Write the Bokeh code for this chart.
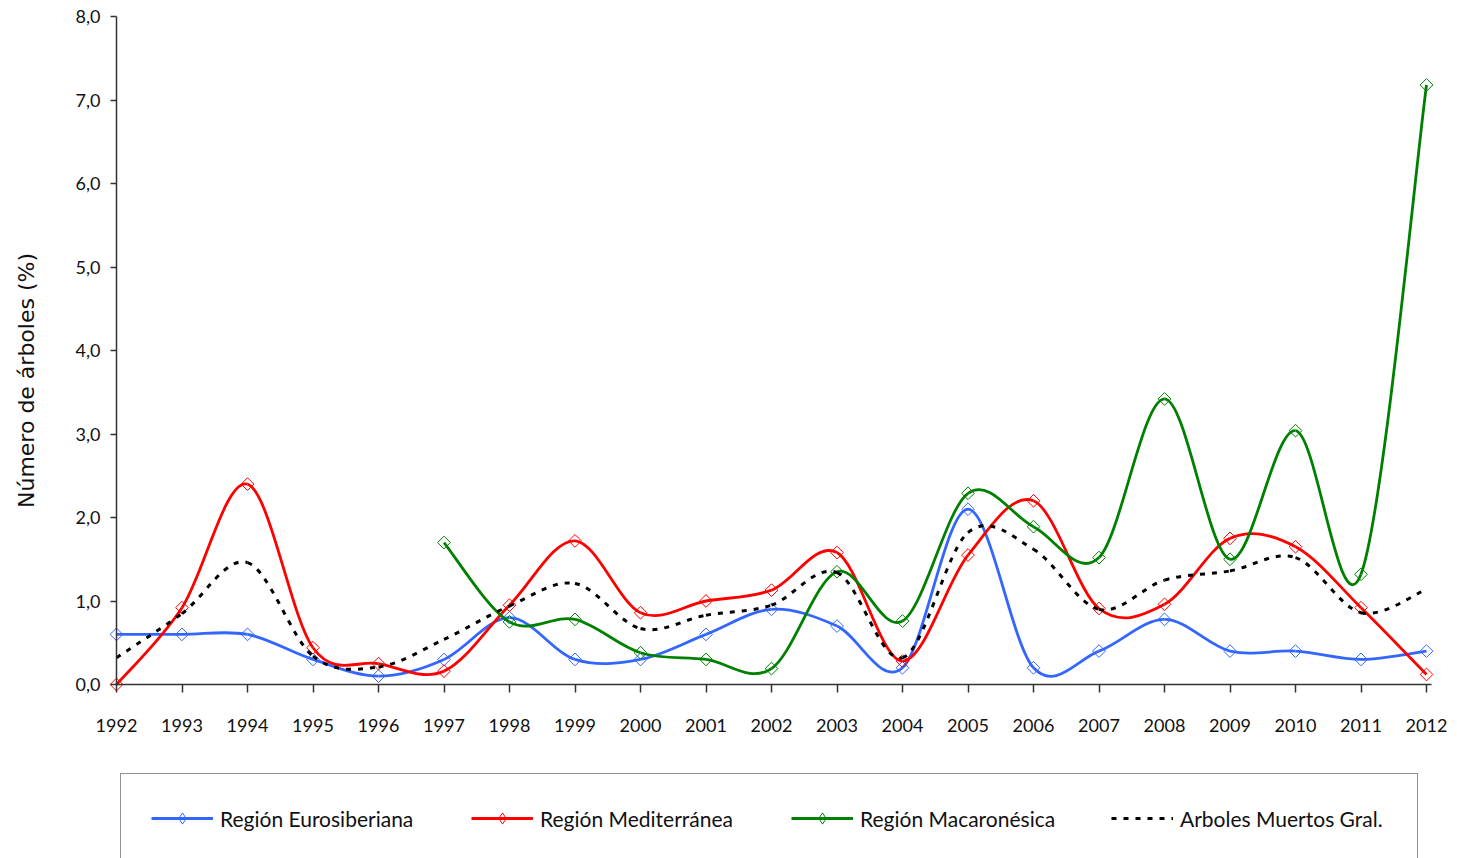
import math
from bokeh.plotting import figure
from bokeh.models import (Range1d, FixedTicker, Legend, LegendItem,
                          ColumnDataSource, Label)
from bokeh.embed import file_html
from bokeh.resources import INLINE

# ---- data ----
years = list(range(1992, 2013))
eurosiberiana = [0.6, 0.6, 0.6, 0.3, 0.1, 0.3, 0.8, 0.3, 0.3, 0.6, 0.9,
                 0.7, 0.2, 2.1, 0.2, 0.4, 0.78, 0.4, 0.4, 0.3, 0.4]
mediterranea = [0.0, 0.92, 2.4, 0.44, 0.25, 0.16, 0.95, 1.72, 0.86, 1.0, 1.13,
                1.58, 0.28, 1.55, 2.2, 0.91, 0.96, 1.75, 1.65, 0.92, 0.12]
mac_years = list(range(1997, 2013))
macaronesica = [1.7, 0.75, 0.78, 0.38, 0.3, 0.19, 1.35, 0.76, 2.29, 1.89,
                1.52, 3.42, 1.5, 3.04, 1.32, 7.18]
generales = [0.32, 0.85, 1.46, 0.34, 0.21, 0.54, 0.94, 1.21, 0.67, 0.83, 0.95,
             1.34, 0.32, 1.82, 1.62, 0.9, 1.25, 1.36, 1.52, 0.86, 1.14]
y_ticks = [0, 1, 2, 3, 4, 5, 6, 7, 8]
y_tick_labels = ["0,0", "1,0", "2,0", "3,0", "4,0", "5,0", "6,0", "7,0", "8,0"]
labels = ["Región Eurosiberiana", "Región Mediterránea", "Región Macaronésica",
          "Arboles Muertos Gral."]
y_title = "Número de árboles (%)"


def smooth_segments(xs, ys):
    """Bezier control points (Excel-style smoothed line) through the data points."""
    n = len(xs)
    d = dict(x0=[], y0=[], x1=[], y1=[], cx0=[], cy0=[], cx1=[], cy1=[])
    for i in range(n - 1):
        xa, ya = (xs[i - 1], ys[i - 1]) if i > 0 else (xs[i], ys[i])
        xb, yb = xs[i], ys[i]
        xc, yc = xs[i + 1], ys[i + 1]
        xd, yd = (xs[i + 2], ys[i + 2]) if i + 2 < n else (xc, yc)
        d["x0"].append(xb); d["y0"].append(yb)
        d["x1"].append(xc); d["y1"].append(yc)
        d["cx0"].append(xb + (xc - xa) / 6.0); d["cy0"].append(yb + (yc - ya) / 6.0)
        d["cx1"].append(xc - (xd - xb) / 6.0); d["cy1"].append(yc - (yd - yb) / 6.0)
    return ColumnDataSource(d)


# ---- layout (pixels) ----
W, H = 1457, 858
LEFT_X, RIGHT_X = 116, 1426      # positions of first / last year
TOP_Y, ZERO_Y = 16, 684          # positions of 8,0 and 0,0
px_year = (RIGHT_X - LEFT_X) / (years[-1] - years[0])
px_unit = (ZERO_Y - TOP_Y) / 8.0
x_start = years[0] - LEFT_X / px_year
x_end = years[-1] + (W - RIGHT_X) / px_year
y_start = -(H - ZERO_Y) / px_unit
y_end = 8 + TOP_Y / px_unit

p = figure(width=W, height=H,
           x_range=Range1d(x_start, x_end), y_range=Range1d(y_start, y_end),
           output_backend="svg", toolbar_location=None, min_border=0)

p.outline_line_color = None
p.xgrid.visible = False
p.ygrid.visible = False

TICK_FONT = "Lato"
AX = "#333333"

p.xaxis.fixed_location = 0
p.xaxis.bounds = (years[0], years[-1] + 5 / px_year)
p.xaxis.ticker = FixedTicker(ticks=years)
p.xaxis.major_label_overrides = {y: str(y) for y in years}
p.xaxis.minor_tick_line_color = None
p.xaxis.major_tick_in = 0
p.xaxis.major_tick_out = 8
p.xaxis.major_label_standoff = 26
p.xaxis.major_label_text_font = TICK_FONT
p.xaxis.major_label_text_font_size = "18px"
p.xaxis.major_label_text_color = "#111111"
p.xaxis.axis_line_color = AX
p.xaxis.axis_line_width = 1.5
p.xaxis.major_tick_line_color = AX
p.xaxis.major_tick_line_width = 1.5

p.yaxis.fixed_location = years[0]
p.yaxis.bounds = (0, 8)
p.yaxis.ticker = FixedTicker(ticks=y_ticks)
p.yaxis.major_label_overrides = dict(zip(y_ticks, y_tick_labels))
p.yaxis.minor_tick_line_color = None
p.yaxis.major_tick_in = 0
p.yaxis.major_tick_out = 6
p.yaxis.major_label_standoff = 10
p.yaxis.major_label_text_font = TICK_FONT
p.yaxis.major_label_text_font_size = "18px"
p.yaxis.major_label_text_color = "#111111"
p.yaxis.axis_line_color = AX
p.yaxis.axis_line_width = 1.5
p.yaxis.major_tick_line_color = AX
p.yaxis.major_tick_line_width = 1.5

p.add_layout(Label(x=26, y=H - 380, x_units="screen", y_units="screen",
                   text=y_title, angle=math.pi / 2, text_align="center",
                   text_baseline="middle", text_font="DejaVu Sans",
                   text_font_size="22px", text_color="#111111"))

series = [
    (years, eurosiberiana, "#3366ff", None),
    (years, mediterranea, "#ff0000", None),
    (mac_years, macaronesica, "#008000", None),
    (years, generales, "#000000", "5 7"),
]

items = []
for (xs, ys, color, dash), label in zip(series, labels):
    src = smooth_segments(xs, ys)
    if dash is None:
        r = p.bezier(x0="x0", y0="y0", x1="x1", y1="y1", cx0="cx0", cy0="cy0",
                     cx1="cx1", cy1="cy1", source=src, line_color=color,
                     line_width=2.8)
        p.scatter(xs, ys, marker="square", angle=math.pi / 4, size=9,
                  line_color=color, line_width=1, fill_color=None)
        # diamond used for the legend symbol (legend sizes it itself)
        lm = p.scatter(xs, ys, marker="diamond", size=0.01,
                       line_color=color, line_width=1, fill_color=None)
        items.append(LegendItem(label=label, renderers=[r, lm]))
    else:
        r = p.bezier(x0="x0", y0="y0", x1="x1", y1="y1", cx0="cx0", cy0="cy0",
                     cx1="cx1", cy1="cy1", source=src, line_color=color,
                     line_width=3, line_dash=dash)
        items.append(LegendItem(label=label, renderers=[r]))

legend = Legend(items=items, orientation="horizontal", location=(120, -5),
                padding=30, spacing=44, glyph_width=62, glyph_height=28,
                label_height=28, label_width=207, label_standoff=7,
                label_text_font=TICK_FONT, label_text_font_size="21px",
                label_text_color="#111111",
                border_line_color="#222222", border_line_width=1.5,
                background_fill_color="white", background_fill_alpha=1)
p.add_layout(legend, "center")

open("out.html", "w").write(file_html(p, INLINE))
